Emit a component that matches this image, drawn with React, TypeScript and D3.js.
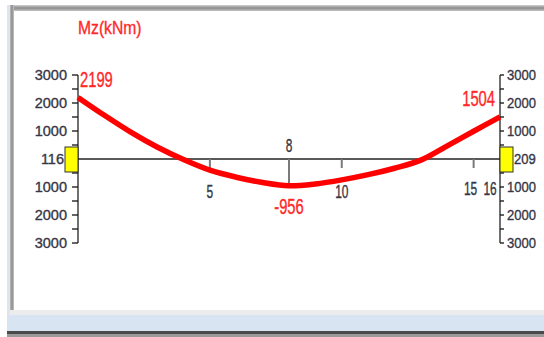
import React from "react";
import * as d3 from "d3";

// beam stations (node index) and bending moment Mz in kNm
const stations = [0, 1, 2, 3, 4, 5, 6, 7, 8, 9, 10, 11, 12, 13, 14, 15, 16];
const moments = [2199, 1560, 960, 430, -20, -400, -650, -840, -956, -890, -745, -560, -330, -40, 470, 990, 1504];

const majorTicks = [3000, 2000, 1000, -1000, -2000, -3000];
const minorTicks = [2500, 1500, 500, -500, -1500, -2500];
const nodeLabels = [5, 8, 10, 15, 16];
const supportLabels = ["116", "209"];
const peaks = [
  { station: 0, value: 2199 },
  { station: 8, value: -956 },
  { station: 16, value: 1504 },
];

const W = 544;
const H = 337;
const font = "'Liberation Sans', Arial, sans-serif";
const labelColor = "#363646";
const red = "#ff0000";
const textRed = "#ff2828";

export default function App() {
  const x = d3.scaleLinear().domain([0, 16]).range([78, 500]);
  const y = d3.scaleLinear().domain([-3000, 3000]).range([243, 75]);

  const line = d3
    .line<number>()
    .x((d, i) => x(stations[i]))
    .y((d) => y(d))
    .curve(d3.curveCatmullRom);

  const x0 = x(0);
  const x1 = x(16);
  const yZero = y(0);

  const axis = (ax: number, dir: number, label: string) => {
    const tickLen = dir < 0 ? 6 : 4;
    const gap = dir < 0 ? 11 : 7;
    const sx = dir < 0 ? 1 : 0.9;
    return (
      <g>
        <line x1={ax} x2={ax} y1={y(3000)} y2={y(-3000)} stroke="#111" strokeWidth={1.2} />
        {majorTicks.concat(minorTicks).map((t) => (
          <line key={t} x1={ax} x2={ax + dir * tickLen} y1={y(t)} y2={y(t)} stroke="#111" strokeWidth={1.3} />
        ))}
        {majorTicks.map((t) => (
          <text
            key={t}
            transform={`translate(${ax + dir * gap},${y(t)}) scale(${sx},1)`}
            dy="0.36em"
            textAnchor={dir < 0 ? "end" : "start"}
            fontFamily={font}
            fontSize={14.5}
            fill={labelColor}
            stroke={labelColor}
            strokeWidth={0.35}
          >
            {Math.abs(t)}
          </text>
        ))}
        <rect
          x={dir < 0 ? ax - 13 : ax}
          y={yZero - 12}
          width={13}
          height={25}
          fill="#ffff00"
          stroke="#333"
          strokeWidth={1}
        />
        <text
          transform={`translate(${ax + dir * 14},${yZero}) scale(${sx},1)`}
          dy="0.36em"
          textAnchor={dir < 0 ? "end" : "start"}
          fontFamily={font}
          fontSize={14.5}
          fill={labelColor}
          stroke={labelColor}
          strokeWidth={0.35}
        >
          {label}
        </text>
      </g>
    );
  };

  const nodeLabelPos = (n: number) => {
    if (n === 8) return { tx: x(n), ty: yZero - 14 };
    if (n === 15) return { tx: x(n) - 3, ty: yZero + 29 };
    if (n === 16) return { tx: x(n) - 10, ty: yZero + 29 };
    return { tx: x(n), ty: yZero + 32 };
  };

  return (
    <svg
      width={W}
      height={H}
      style={{ position: "absolute", left: 0, top: 0, background: "#fff" }}
    >
      <defs>
        <linearGradient id="topband" x1="0" x2="0" y1="0" y2="1">
          <stop offset="0" stopColor="#d0d0d0" />
          <stop offset="0.5" stopColor="#8c8c8c" />
          <stop offset="1" stopColor="#c4c4c4" />
        </linearGradient>
        <linearGradient id="leftband" x1="0" x2="1" y1="0" y2="0">
          <stop offset="0" stopColor="#c0c0c0" />
          <stop offset="0.5" stopColor="#8a8a8a" />
          <stop offset="1" stopColor="#c8c8c8" />
        </linearGradient>
      </defs>

      {/* window frame */}
      <rect x={7} y={5} width={3} height={326} fill="#dce6f2" />
      <rect x={10} y={5} width={W - 10} height={6} fill="url(#topband)" />
      <rect x={10} y={5} width={4} height={307} fill="url(#leftband)" />
      <rect x={10} y={310} width={W - 10} height={5} fill="#ececec" />
      <rect x={7} y={315} width={W - 7} height={16} fill="#d8e4f1" />
      <rect x={7} y={331} width={W - 7} height={3} fill="#4a4a4a" />
      <rect x={7} y={334} width={W - 7} height={3} fill="#9a9a9a" />

      <text
        transform="translate(78,34) scale(0.98,1.2)"
        fontFamily={font}
        fontSize={16}
        fill={textRed}
        stroke={textRed}
        strokeWidth={0.3}
      >
        Mz(kNm)
      </text>

      {/* beam axis */}
      <line x1={x0} x2={x1} y1={yZero} y2={yZero} stroke="#222" strokeWidth={1.5} />
      {nodeLabels.map((n) => {
        const long = n === 8;
        const yEnd = long ? y(moments[stations.indexOf(n)]) : yZero + 9;
        return n === 16 ? null : (
          <line key={n} x1={x(n)} x2={x(n)} y1={yZero} y2={yEnd} stroke="#7a7a7a" strokeWidth={2} />
        );
      })}
      {nodeLabels.map((n) => {
        const { tx, ty } = nodeLabelPos(n);
        return (
          <text
            key={n}
            transform={`translate(${tx},${ty}) scale(0.85,1.3)`}
            dy="0.36em"
            textAnchor="middle"
            fontFamily={font}
            fontSize={14}
            fill={labelColor}
            stroke={labelColor}
            strokeWidth={0.3}
          >
            {n}
          </text>
        );
      })}

      {axis(x0, -1, supportLabels[0])}
      {axis(x1, 1, supportLabels[1])}

      <path d={line(moments) || ""} fill="none" stroke={red} strokeWidth={5.5} strokeLinejoin="round" />

      {peaks.map((p) => {
        const px = x(p.station);
        const py = y(p.value) + (p.value > 0 ? -19 : 20);
        const anchor = p.station === 0 ? "start" : p.station === 16 ? "end" : "middle";
        const ax = p.station === 0 ? px + 2 : p.station === 16 ? px - 5 : px;
        return (
          <text
            key={p.station}
            transform={`translate(${ax},${py}) scale(0.82,1.25)`}
            dy="0.36em"
            textAnchor={anchor}
            fontFamily={font}
            fontSize={18}
            fill={textRed}
            stroke={textRed}
            strokeWidth={0.3}
          >
            {p.value}
          </text>
        );
      })}
    </svg>
  );
}
